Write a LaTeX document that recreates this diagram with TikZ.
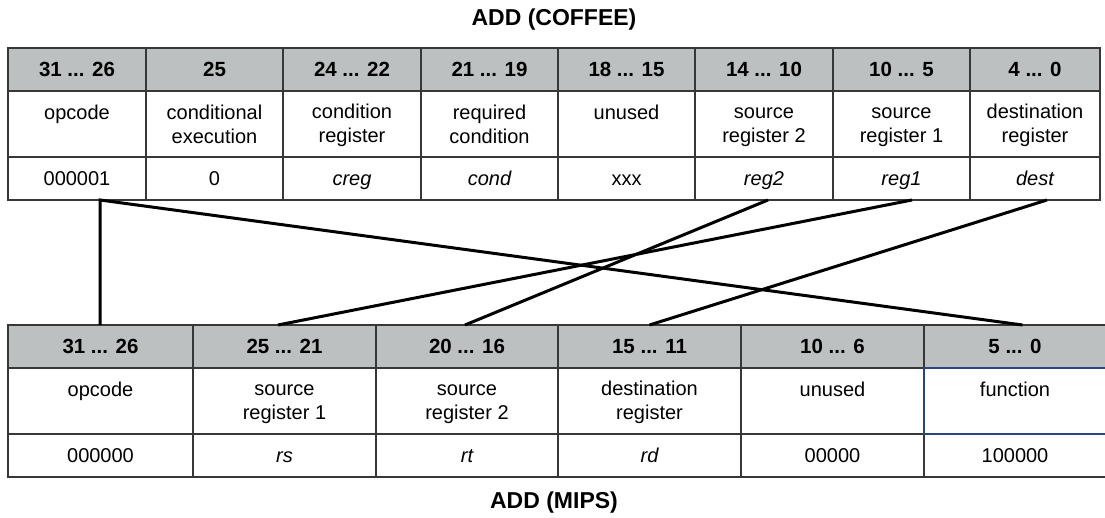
\documentclass[tikz,border=0pt]{standalone}
\usepackage{fontspec}
\setmainfont{Liberation Sans}
\definecolor{headgray}{RGB}{189,192,192}
\definecolor{gridline}{RGB}{55,55,55}
\definecolor{funcblue}{RGB}{40,70,130}
% two-line field description, centred in its cell
\newcommand\twol[2]{\strut#1\\\rule[-1.2pt]{0pt}{16.8pt}#2}
\begin{document}
\begin{tikzpicture}[x=1pt,y=-1pt,
  cell/.style={draw=gridline, line width=1.3pt, inner sep=0pt, outer sep=0pt,
    align=center, font=\fontsize{20}{24}\selectfont},
  onerow/.style={cell, text height=14.3pt, text depth=0pt},
  headcell/.style={onerow, fill=headgray, font=\fontsize{20.5}{24}\selectfont\bfseries},
  title/.style={font=\fontsize{23}{27}\selectfont\bfseries},
  link/.style={line width=3pt, black, line join=miter}]
\useasboundingbox (0,0) rectangle (1105,518);

% titles
\node[title] (coffee) at (554,20) {ADD (COFFEE)};
\node[title] (mips) at (554,503) {ADD (MIPS)};

% COFFEE instruction format
\foreach \i/\l/\r/\hd/\ds/\vl in {
  1/8/146/{31 ... 26}/{\twol{opcode}{}}/{000001},
  2/146/283/{25}/{\twol{conditional}{execution}}/{0},
  3/283/421/{24 ... 22}/{\twol{condition}{register}}/{\itshape creg},
  4/421/558/{21 ... 19}/{\twol{required}{condition}}/{\itshape cond},
  5/558/695/{18 ... 15}/{\twol{unused}{}}/{xxx},
  6/695/833/{14 ... 10}/{\twol{source}{register 2}}/{\itshape reg2},
  7/833/970/{10 ... 5}/{\twol{source}{register 1}}/{\itshape reg1},
  8/970/1100/{4 ... 0}/{\twol{destination}{register}}/{\itshape dest}}
{
  \node[headcell, minimum width={\r-\l}, minimum height=43] (th\i) at ({(\l+\r)/2},69.5) {\hd};
  \node[cell, minimum width={\r-\l}, minimum height=66] (td\i) at ({(\l+\r)/2},124) {\ds};
  \node[onerow, minimum width={\r-\l}, minimum height=43] (tv\i) at ({(\l+\r)/2},178.5) {\vl};
}

% MIPS instruction format
\foreach \i/\l/\r/\hd/\ds/\vl in {
  1/8/193/{31 ... 26}/{\twol{opcode}{}}/{000000},
  2/193/376/{25 ... 21}/{\twol{source}{register 1}}/{\itshape rs},
  3/376/558/{20 ... 16}/{\twol{source}{register 2}}/{\itshape rt},
  4/558/741/{15 ... 11}/{\twol{destination}{register}}/{\itshape rd},
  5/741/924/{10 ... 6}/{\twol{unused}{}}/{00000},
  6/924/1106/{5 ... 0}/{\twol{function}{}}/{100000}}
{
  \node[headcell, minimum width={\r-\l}, minimum height=43] (mh\i) at ({(\l+\r)/2},346.5) {\hd};
  \node[cell, minimum width={\r-\l}, minimum height=66] (md\i) at ({(\l+\r)/2},401) {\ds};
  \node[onerow, minimum width={\r-\l}, minimum height=43] (mv\i) at ({(\l+\r)/2},455.5) {\vl};
}
\draw[funcblue, line width=1.3pt] (md6.north west) rectangle (md6.south east);

% field mapping
\draw[link] ([xshift=-0.5]mh1.north) -- ([xshift=23]tv1.south) -- ([xshift=7.5]mh6.north);
\draw[link] ([xshift=4]tv6.south) -- ([xshift=-2]mh3.north);
\draw[link] ([xshift=10.5]tv7.south) -- ([xshift=-6.5]mh2.north);
\draw[link] ([xshift=12]tv8.south) -- (mh4.north);
\end{tikzpicture}
\end{document}
